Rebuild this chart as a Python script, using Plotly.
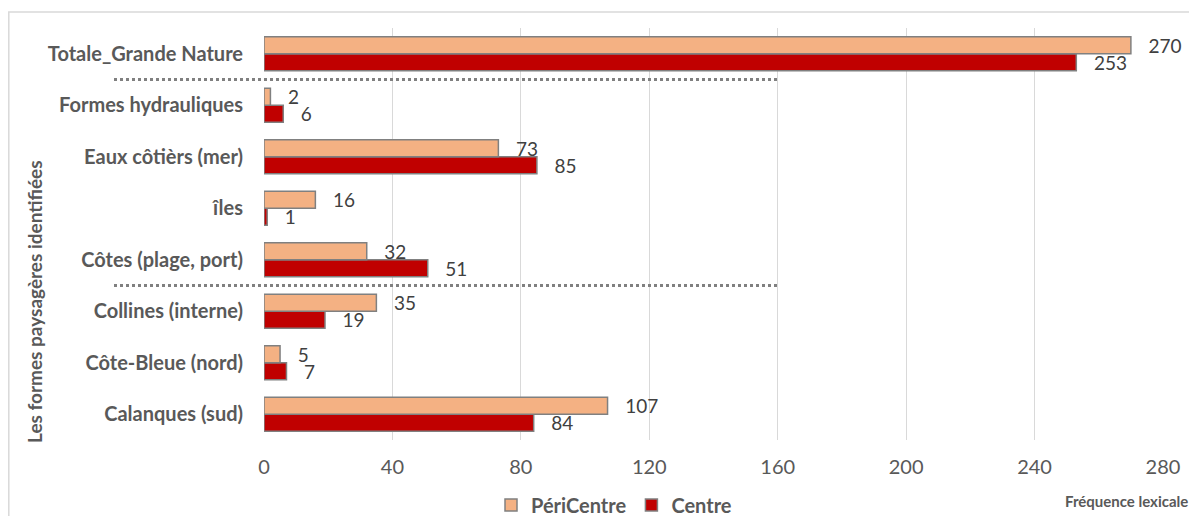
import plotly.graph_objects as go

categories = ["Calanques (sud)", "Côte-Bleue (nord)", "Collines (interne)",
              "Côtes (plage, port)", "îles", "Eaux côtièrs (mer)",
              "Formes hydrauliques", "Totale_Grande Nature"]
pericentre = [107, 5, 35, 32, 16, 73, 2, 270]
centre = [84, 7, 19, 51, 1, 85, 6, 253]
x_ticks = [0, 40, 80, 120, 160, 200, 240, 280]
# separators drawn below these categories
separators_below = ["Totale_Grande Nature", "Côtes (plage, port)"]

FONT = "Lato"
GREY = "#595959"

# page is 1197x516 but the html body has an 8px margin
OFF = 8
W, H = 1197 - OFF, 516 - OFF
# plot area in page pixels: x 264..1163, y 28..440
PL, PR, PT, PB = 264, 1163, 28, 440
L, T = PL - OFF, PT - OFF
R, B = W - (PR - OFF), H - (PB - OFF)
pw, ph = PR - PL, PB - PT

def px_x(p):
    return (p - PL) / pw

def px_y(p):
    return (PB - p) / ph

LABEL_TPL = "\u00a0\u00a0\u00a0%{x}"

fig = go.Figure()
fig.add_trace(go.Bar(
    y=categories, x=centre, orientation="h", name="<b>Centre</b>",
    marker=dict(color="#C00000", line=dict(color="#808080", width=1.5)),
    texttemplate=LABEL_TPL, textposition="outside", cliponaxis=False,
    constraintext="none",
    textfont=dict(family=FONT, size=19, color="#404040"), legendrank=2))
fig.add_trace(go.Bar(
    y=categories, x=pericentre, orientation="h", name="<b>PériCentre</b>",
    marker=dict(color="#F4B183", line=dict(color="#808080", width=1.5)),
    texttemplate=LABEL_TPL, textposition="outside", cliponaxis=False,
    constraintext="none",
    textfont=dict(family=FONT, size=19, color="#404040"), legendrank=1))

shapes = []
n = len(categories)
for c in separators_below:
    idx = categories.index(c) - 0.5
    yp = (idx + 0.5) / n
    shapes.append(dict(type="line", xref="paper", yref="paper",
                       x0=px_x(114), x1=160 / x_ticks[-1], y0=yp, y1=yp,
                       line=dict(color="#808080", width=3, dash="dot")))
shapes.append(dict(type="rect", xref="paper", yref="paper",
                   x0=px_x(8.8), x1=px_x(1210), y0=px_y(12), y1=px_y(530),
                   line=dict(color="#D9D9D9", width=1.5), layer="below"))

fig.update_layout(
    width=W, height=H, margin=dict(l=L, r=R, t=T, b=B, autoexpand=False),
    paper_bgcolor="white", plot_bgcolor="white",
    barmode="group", bargap=0.34, bargroupgap=0,
    font=dict(family=FONT, color=GREY),
    showlegend=True,
    legend=dict(orientation="h", x=px_x(614), y=px_y(505), xanchor="center",
                yanchor="middle", traceorder="normal", itemwidth=30,
                font=dict(family=FONT, size=20, color=GREY)),
    shapes=shapes,
    annotations=[
        dict(text="<b>Fréquence lexicale</b>", xref="paper", yref="paper",
             x=px_x(1190), y=px_y(501), xanchor="right", yanchor="middle",
             showarrow=False, font=dict(family=FONT, size=15, color=GREY)),
        dict(text="<b>Les formes paysagères identifiées</b>", xref="paper", yref="paper",
             x=px_x(35), y=px_y(302), xanchor="center", yanchor="middle", textangle=-90,
             showarrow=False, font=dict(family=FONT, size=19, color=GREY)),
    ],
)
fig.update_xaxes(range=[0, 280], tickvals=x_ticks, showgrid=True,
                 gridcolor="#D9D9D9", gridwidth=1, zeroline=False, showline=False,
                 ticks="", ticklabelstandoff=13, automargin=False,
                 tickfont=dict(family=FONT, size=20, color=GREY))
fig.update_yaxes(categoryorder="array", categoryarray=categories,
                 showgrid=False, zeroline=False, showline=False, ticks="",
                 ticklabelstandoff=20, automargin=False,
                 tickfont=dict(family=FONT, size=20, color=GREY, weight="bold"))

fig.write_html("out.html")
